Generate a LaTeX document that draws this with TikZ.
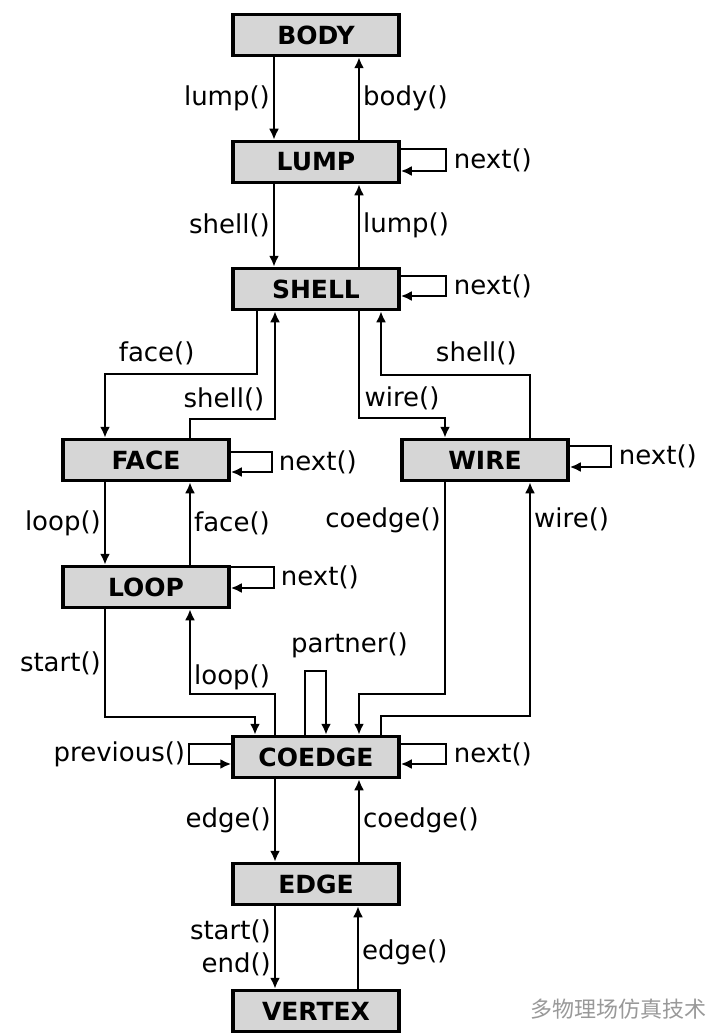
\documentclass[tikz,border=0pt]{standalone}
\usepackage{fontspec}
\setmainfont{DejaVu Sans}
\newfontfamily\cjk{Noto Sans CJK SC}
\usetikzlibrary{arrows.meta}
\definecolor{boxgray}{RGB}{214,214,214}

\begin{document}
\begin{tikzpicture}[x=1pt,y=-1pt,line width=2.3pt,node distance=127pt,>={Latex[length=11pt,width=10pt]}]
		\tikzstyle{entity}=[draw=black,line width=3.5pt,fill=boxgray,minimum width=166pt,minimum height=41pt,inner sep=0pt,font=\fontsize{25}{28}\selectfont\bfseries]
		\tikzstyle{call}=[font=\fontsize{26}{33}\selectfont,inner sep=3pt]
		
		\useasboundingbox (0,0) rectangle (712,1035);
		
		\node[entity] (body) at (316,35) {BODY};
		\node[entity] (lump) [below of=body] {LUMP};
		\node[entity] (shell) [below of=lump] {SHELL};
		\node[entity] (face) at (146,460) {FACE};
		\node[entity] (wire) at (485,460) {WIRE};
		\node[entity] (loop) [below of=face] {LOOP};
		\node[entity] (coedge) at (316,757) {COEDGE};
		\node[entity] (edge) [below of=coedge] {EDGE};
		\node[entity] (vertex) [below of=edge] {VERTEX};
		
		% body / lump / shell
		\draw[->] ([xshift=-42pt]body.south) -- node[call,left] {lump()} ([xshift=-42pt]lump.north);
		\draw[->] ([xshift=43pt]lump.north) -- node[call,right] {body()} ([xshift=43pt]body.south);
		\draw[->] ([yshift=13pt]lump.east) -- ++(45,0) |- node[call,pos=0.25,right,xshift=4pt] {next()} ([yshift=-9pt]lump.east);
		
		\draw[->] ([xshift=-42pt]lump.south) -- node[call,left] {shell()} ([xshift=-42pt]shell.north);
		\draw[->] ([xshift=43pt]shell.north) -- node[call,right] {lump()} ([xshift=43pt]lump.south);
		\draw[->] ([yshift=13pt]shell.east) -- ++(45,0) |- node[call,pos=0.25,right,xshift=4pt] {next()} ([yshift=-7pt]shell.east);
		
		% shell / face / wire
		\draw[->] ([xshift=-59pt]shell.south) -- ++(0,63) -| node[call,pos=0.33,above,yshift=5pt] {face()} ([xshift=-41pt]face.north);
		\draw[->] ([xshift=44pt]face.north) -- ++(0,-19) -| node[call,pos=0.2,above,yshift=4pt] {shell()} ([xshift=-41pt]shell.south);
		\draw[->] ([xshift=43pt]shell.south) -- ++(0,107) -| node[call,pos=0.25,above,yshift=4pt] {wire()} ([xshift=-40pt]wire.north);
		\draw[->] ([xshift=45pt]wire.north) -- ++(0,-63) -| node[call,pos=0.18,above,yshift=6pt] {shell()} ([xshift=65pt]shell.south);
		\draw[->] ([yshift=8pt]face.east) -- ++(41,0) |- node[call,pos=0.25,right,xshift=3pt] {next()} ([yshift=-12pt]face.east);
		\draw[->] ([yshift=14pt]wire.east) -- ++(41,0) |- node[call,pos=0.25,right,xshift=4pt] {next()} ([yshift=-7pt]wire.east);
		
		% face / loop
		\draw[->] ([xshift=-41pt]face.south) -- node[call,left] {loop()} ([xshift=-41pt]loop.north);
		\draw[->] ([xshift=44pt]loop.north) -- node[call,right] {face()} ([xshift=44pt]face.south);
		\draw[->] ([yshift=20pt]loop.east) -- ++(43,0) |- node[call,pos=0.25,right,xshift=3pt] {next()} ([yshift=-1pt]loop.east);
		
		% into coedge
		\draw[->] ([xshift=-41pt]loop.south) -- node[call,left] {start()} ++(0,108) -| ([xshift=-61pt]coedge.north);
		\draw[->] ([xshift=-41pt]coedge.north) -- ++(0,-41) -| node[call,pos=0.6,right] {loop()} ([xshift=44pt]loop.south);
		\draw[->] ([xshift=-11pt]coedge.north) -- ++(0,-64) -| node[call,pos=0.25,above,xshift=34pt,yshift=9pt] {partner()} ([xshift=10pt]coedge.north);
		\draw[->] ([xshift=-40pt]wire.south) -- node[call,pos=0.18,left] {coedge()} ++(0,212) -| ([xshift=43pt]coedge.north);
		\draw[->] ([xshift=65pt]coedge.north) -- ++(0,-19) -| node[call,pos=0.92,right] {wire()} ([xshift=45pt]wire.south);
		\draw[->] ([yshift=13pt]coedge.west) -- ++(-42,0) |- node[call,pos=0.25,left] {previous()} ([yshift=-7pt]coedge.west);
		\draw[->] ([yshift=13pt]coedge.east) -- ++(45,0) |- node[call,pos=0.25,right,xshift=4pt] {next()} ([yshift=-7pt]coedge.east);
		
		% coedge / edge / vertex
		\draw[->] ([xshift=-41pt]coedge.south) -- node[call,left] {edge()} ([xshift=-41pt]edge.north);
		\draw[->] ([xshift=43pt]edge.north) -- node[call,right] {coedge()} ([xshift=43pt]coedge.south);
		\draw[->] ([xshift=-41pt]edge.south) -- node[call,left,align=right] {start()\\end()} ([xshift=-41pt]vertex.north);
		\draw[->] ([xshift=42pt]vertex.north) -- node[call,pos=0.44,right] {edge()} ([xshift=42pt]edge.south);
		
		\node[text=black!40,font=\cjk\fontsize{22}{24}\selectfont] (mark) at (618,1009) {多物理场仿真技术};

\end{tikzpicture}
\end{document}
